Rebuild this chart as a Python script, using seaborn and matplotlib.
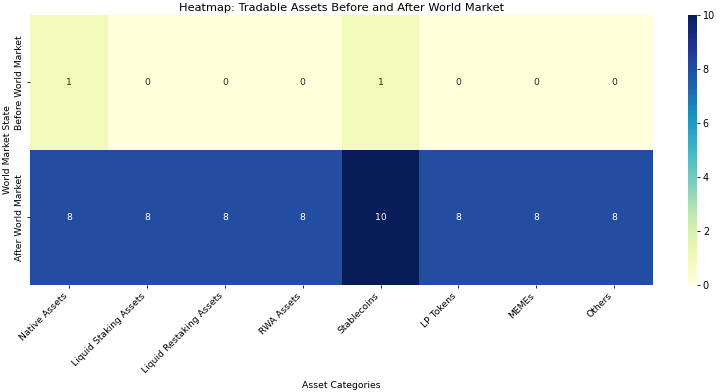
import matplotlib
matplotlib.use("Agg")
import matplotlib.pyplot as plt
import seaborn as sns
import pandas as pd

categories = ["Native Assets", "Liquid Staking Assets", "Liquid Restaking Assets", "RWA Assets",
              "Stablecoins", "LP Tokens", "MEMEs", "Others"]
states = ["Before World Market", "After World Market"]
before_values = [1, 0, 0, 0, 1, 0, 0, 0]
after_values = [8, 8, 8, 8, 10, 8, 8, 8]

df = pd.DataFrame([before_values, after_values], index=states, columns=categories)

fig = plt.figure(figsize=(7.2, 3.92), dpi=100)
ax = fig.add_axes([0.042, 0.273, 0.865, 0.689])
cax = fig.add_axes([0.955, 0.273, 0.0125, 0.689])

sns.heatmap(df, annot=True, fmt="d", cmap="YlGnBu", ax=ax, cbar_ax=cax,
            annot_kws={"fontsize": 6.7})
ax.set_title("Heatmap: Tradable Assets Before and After World Market", fontsize=8.2, pad=3)
ax.set_xlabel("Asset Categories", fontsize=6.7)
ax.set_ylabel("World Market State", fontsize=6.7, labelpad=2)
ax.set_xticklabels(ax.get_xticklabels(), rotation=45, ha="right", fontsize=6.7)
ax.set_yticklabels(ax.get_yticklabels(), rotation=90, va="center", fontsize=6.7)
ax.tick_params(length=2.5, width=0.6, pad=2)
cax.tick_params(labelsize=6.9, length=2.5, width=0.6, pad=2)

fig.savefig("out.png", dpi=100)
